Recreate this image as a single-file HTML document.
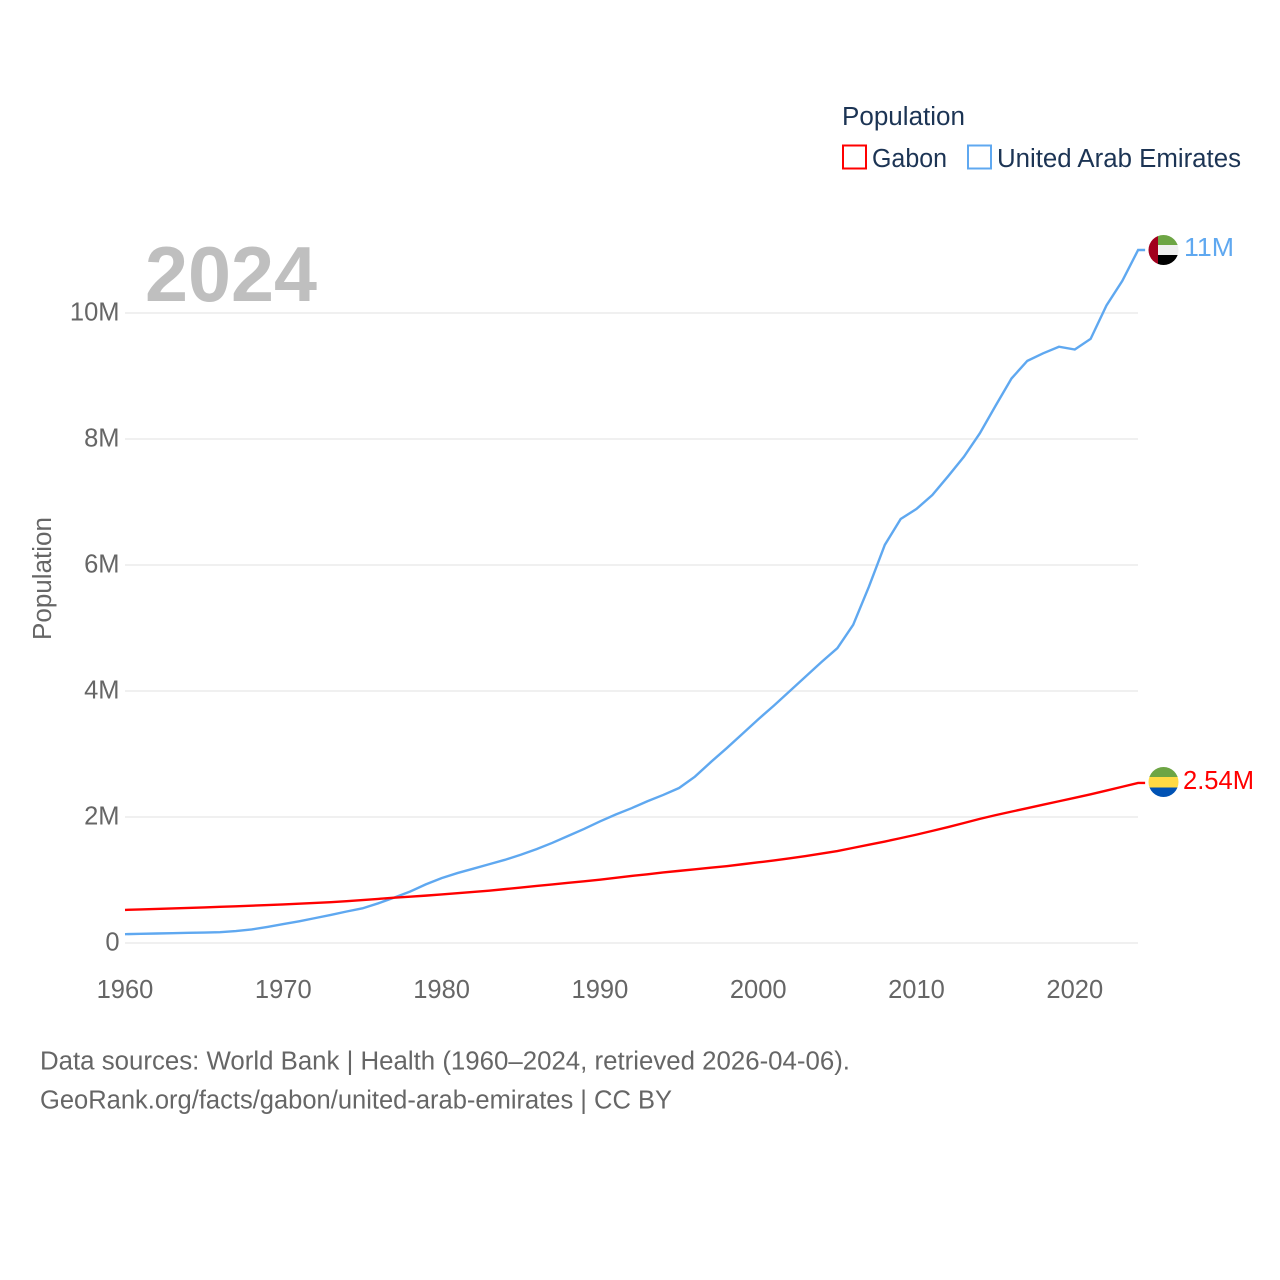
<!DOCTYPE html>
<html lang="en">
<head>
<meta charset="utf-8">
<title>Population: Gabon and United Arab Emirates</title>
<style>
html,body{margin:0;padding:0;background:#fff;}
svg{display:block;}
text{font-family:"Liberation Sans",sans-serif;}
.tick{font-size:25.5px;fill:#666;}
.legend{font-size:25.5px;fill:#1c3454;}
</style>
</head>
<body>
<svg id="chart" xmlns="http://www.w3.org/2000/svg" width="1280" height="1280" viewBox="0 0 1280 1280">
  <rect x="0" y="0" width="1280" height="1280" fill="#ffffff"/>
  <g id="grid"></g>
  <g id="yticks"></g>
  <g id="xticks"></g>
  <text x="145" y="301" font-size="78" font-weight="bold" fill="#bfbfbf" textLength="172" lengthAdjust="spacingAndGlyphs">2024</text>
  <text class="tick" transform="translate(51,640) rotate(-90)" textLength="123" lengthAdjust="spacingAndGlyphs">Population</text>
  <g id="series"></g>
  <defs>
    <clipPath id="flag-clip-uae"><circle cx="1163.5" cy="250" r="15"/></clipPath>
    <clipPath id="flag-clip-gabon"><circle cx="1163.5" cy="782" r="15"/></clipPath>
  </defs>
  <g clip-path="url(#flag-clip-uae)">
    <rect x="1158" y="234" width="21" height="11" fill="#6da544"/>
    <rect x="1158" y="245" width="21" height="10" fill="#f0f0f0"/>
    <rect x="1158" y="255" width="21" height="11" fill="#000000"/>
    <rect x="1148" y="234" width="10" height="32" fill="#a2001d"/>
  </g>
  <g clip-path="url(#flag-clip-gabon)">
    <rect x="1148" y="766" width="31" height="11" fill="#6da544"/>
    <rect x="1148" y="777" width="31" height="10.5" fill="#ffda44"/>
    <rect x="1148" y="787.5" width="31" height="11" fill="#0052b4"/>
  </g>
  <text x="1184" y="256" font-size="25.5" fill="#5fa8f0" textLength="50" lengthAdjust="spacingAndGlyphs">11M</text>
  <text x="1183" y="789" font-size="25.5" fill="#ff0000" textLength="71" lengthAdjust="spacingAndGlyphs">2.54M</text>
  <g>
    <text class="legend" x="842" y="125" textLength="123" lengthAdjust="spacingAndGlyphs">Population</text>
    <rect x="843" y="145.5" width="23" height="23" fill="#ffffff" stroke="#ff0000" stroke-width="2"/>
    <text class="legend" x="872" y="167" textLength="75" lengthAdjust="spacingAndGlyphs">Gabon</text>
    <rect x="968" y="145.5" width="23" height="23" fill="#ffffff" stroke="#5fa8f0" stroke-width="2"/>
    <text class="legend" x="997" y="167" textLength="244" lengthAdjust="spacingAndGlyphs">United Arab Emirates</text>
  </g>
  <text class="tick" x="40" y="1069.5" textLength="810" lengthAdjust="spacingAndGlyphs">Data sources: World Bank | Health (1960–2024, retrieved 2026-04-06).</text>
  <text class="tick" x="40" y="1108.5" textLength="632" lengthAdjust="spacingAndGlyphs">GeoRank.org/facts/gabon/united-arab-emirates | CC BY</text>
</svg>
<script>
const startYear = 1960;
const xTickYears = [1960, 1970, 1980, 1990, 2000, 2010, 2020];
const yTickValues = [0, 2, 4, 6, 8, 10];
const yTickLabels = ["0", "2M", "4M", "6M", "8M", "10M"];
const gabonValues = [
  0.525, 0.533, 0.541, 0.549, 0.557, 0.565, 0.574, 0.583, 0.592, 0.602,
  0.612, 0.624, 0.636, 0.648, 0.663, 0.682, 0.700, 0.720, 0.735, 0.752,
  0.770, 0.790, 0.810, 0.830, 0.855, 0.880, 0.905, 0.930, 0.955, 0.980,
  1.005, 1.035, 1.065, 1.090, 1.120, 1.145, 1.170, 1.195, 1.220, 1.250,
  1.280, 1.310, 1.345, 1.380, 1.420, 1.460, 1.510, 1.560, 1.610, 1.665,
  1.720, 1.780, 1.840, 1.905, 1.970, 2.030, 2.085, 2.140, 2.195, 2.250,
  2.305, 2.360, 2.420, 2.480, 2.540
];
const uaeValues = [
  0.140, 0.146, 0.151, 0.156, 0.161, 0.166, 0.172, 0.190, 0.215, 0.255,
  0.300, 0.345, 0.395, 0.445, 0.500, 0.550, 0.630, 0.720, 0.815, 0.930,
  1.030, 1.110, 1.180, 1.250, 1.320, 1.400, 1.490, 1.590, 1.700, 1.810,
  1.930, 2.040, 2.140, 2.250, 2.350, 2.460, 2.640, 2.870, 3.090, 3.320,
  3.550, 3.770, 4.000, 4.230, 4.460, 4.680, 5.050, 5.660, 6.320, 6.730,
  6.890, 7.110, 7.410, 7.720, 8.090, 8.530, 8.960, 9.240, 9.360, 9.465,
  9.420, 9.590, 10.120, 10.510, 11.000
];

const svgNS = "http://www.w3.org/2000/svg";
function xScale(year) { return 125 + (year - 1960) * 15.83; }
function yScale(value) { return 943 - value * 63; }

const gridGroup = document.getElementById("grid");
const yGroup = document.getElementById("yticks");
const xGroup = document.getElementById("xticks");
const seriesGroup = document.getElementById("series");

yTickValues.forEach(function (v, i) {
  const line = document.createElementNS(svgNS, "line");
  
  
  line.setAttribute("x1", 125);
  line.setAttribute("x2", 1138);
  line.setAttribute("y1", yScale(v));
  line.setAttribute("y2", yScale(v));
  line.setAttribute("stroke", "#ececec");
  line.setAttribute("stroke-width", 1.5);
  gridGroup.appendChild(line);

  const label = document.createElementNS(svgNS, "text");
  
  
  label.setAttribute("class", "tick");
  label.setAttribute("x", 119.5);
  label.setAttribute("y", yScale(v) + 7.5);
  label.setAttribute("text-anchor", "end");
  label.textContent = yTickLabels[i];
  yGroup.appendChild(label);
});

xTickYears.forEach(function (year) {
  const label = document.createElementNS(svgNS, "text");
  
  
  label.setAttribute("class", "tick");
  label.setAttribute("x", xScale(year));
  label.setAttribute("y", 998);
  label.setAttribute("text-anchor", "middle");
  label.textContent = String(year);
  xGroup.appendChild(label);
});

function linePoints(values) {
  const pts = values.map(function (v, i) {
    return xScale(startYear + i).toFixed(2) + "," + yScale(v).toFixed(2);
  });
  const last = values[values.length - 1];
  pts.push((xScale(startYear + values.length - 1) + 7).toFixed(2) + "," + yScale(last).toFixed(2));
  return pts.join(" ");
}

const uaeLine = document.createElementNS(svgNS, "polyline");


uaeLine.setAttribute("points", linePoints(uaeValues));
uaeLine.setAttribute("fill", "none");
uaeLine.setAttribute("stroke", "#5fa8f0");
uaeLine.setAttribute("stroke-width", 2.4);
seriesGroup.appendChild(uaeLine);

const gabonLine = document.createElementNS(svgNS, "polyline");


gabonLine.setAttribute("points", linePoints(gabonValues));
gabonLine.setAttribute("fill", "none");
gabonLine.setAttribute("stroke", "#ff0000");
gabonLine.setAttribute("stroke-width", 2.4);
seriesGroup.appendChild(gabonLine);
</script>
</body>
</html>
